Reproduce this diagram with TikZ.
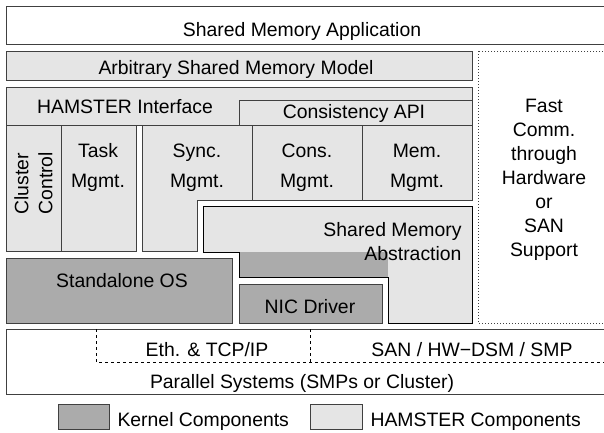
\documentclass[tikz,border=0pt]{standalone}
\usepackage{fontspec}
\setmainfont{Liberation Sans}
\tikzset{
  hamster/.style={draw=black!75, fill=black!10},
  kernel/.style={draw=black!75, fill=black!33},
  lbl/.style={font=\fontsize{19.4}{24}\selectfont, inner sep=0pt, align=center},
  mgmt/.style={lbl, font=\fontsize{19.4}{30}\selectfont},
}
\begin{document}
\begin{tikzpicture}[x=1pt, y=-1pt, line width=1pt]
  \useasboundingbox (0,0) rectangle (604,432);

  % application and model layers
  \draw[draw=black!75] (6,6) rectangle (612,44);
  \node[lbl, anchor=base] (app) at (302,36) {Shared Memory Application};
  \draw[hamster] (6,51) rectangle (472,80);
  \node[lbl, anchor=base] (model) at (236,74) {Arbitrary Shared Memory Model};
  \draw[black!75, dotted] (478,51) rectangle (612,323);
  \node[lbl] (fast) at (544,180) {Fast\\Comm.\\through\\Hardware\\or\\SAN\\Support};

  % HAMSTER interface and management modules
  \draw[hamster] (6,87) rectangle (472,125);
  \node[lbl, anchor=base] (iface) at (125,113) {HAMSTER Interface};
  \draw[hamster] (239,100) rectangle (472,125);
  \node[lbl, anchor=base] (capi) at (354,118) {Consistency API};
  \draw[hamster] (6,125) rectangle (136,251);
  \draw[black!75] (61,125) -- (61,251);
  \node[lbl, rotate=90, anchor=west, align=left] (cluster) at (33.5,215) {Cluster\\Control};
  \draw[hamster] (142,125) -- (472,125) -- (472,200) -- (197,200) -- (197,251) -- (142,251) -- cycle;
  \foreach \x in {252,362}
    \draw[black!75] (\x,125) -- (\x,200);
  \foreach \x/\name/\t in {98/task/Task, 197/sync/Sync., 307/cons/Cons., 417/mem/Mem.}
    \node[mgmt] (\name) at (\x,167.5) {\t\\Mgmt.};

  % shared memory abstraction
  \draw[hamster, draw=black] (203,206) -- (472,206) -- (472,323) -- (388,323) -- (388,277)
    -- (239,277) -- (239,252) -- (203,252) -- cycle;
  \fill[black!33] (239,252) rectangle (388,277);
  \draw (239,252) -- (239,277) -- (388,277);
  \node[lbl, anchor=east, align=right] (sma) at (462,241.5) {Shared Memory\\Abstraction};

  % kernel components
  \draw[kernel] (6,258) rectangle (232,323);
  \node[lbl, anchor=base] (os) at (122,287) {Standalone OS};
  \draw[kernel] (239,284) rectangle (382,323);
  \node[lbl, anchor=base] (nic) at (310,313) {NIC Driver};

  % hardware
  \draw[draw=black!75] (6,329) rectangle (612,394);
  \draw[dashed] (96,329) -- (96,362) -- (612,362);
  \draw[dashed] (310,329) -- (310,362);
  \node[lbl, anchor=base] (eth) at (207,356) {Eth. \& TCP/IP};
  \node[lbl, anchor=base] (san) at (472,356) {SAN / HW−DSM / SMP};
  \node[lbl, anchor=base] (par) at (302,388) {Parallel Systems (SMPs or Cluster)};

  % legend
  \draw[kernel] (58,404) rectangle (109,429);
  \node[lbl, anchor=base west] (lkern) at (117,426) {Kernel Components};
  \draw[hamster] (310,404) rectangle (362,429);
  \node[lbl, anchor=base west] (lham) at (370,426) {HAMSTER Components};
\end{tikzpicture}
\end{document}
